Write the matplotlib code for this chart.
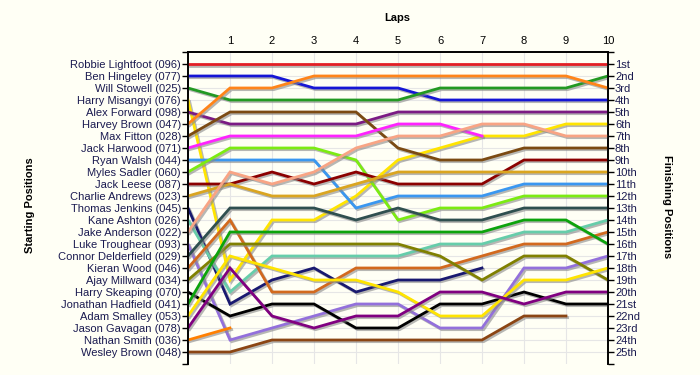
import matplotlib.pyplot as plt
import matplotlib.patheffects as pe

# starting grid, top to bottom
drivers = ["Robbie Lightfoot (096)", "Ben Hingeley (077)", "Will Stowell (025)",
           "Harry Misangyi (076)", "Alex Forward (098)", "Harvey Brown (047)",
           "Max Fitton (028)", "Jack Harwood (071)", "Ryan Walsh (044)",
           "Myles Sadler (060)", "Jack Leese (087)", "Charlie Andrews (023)",
           "Thomas Jenkins (045)", "Kane Ashton (026)", "Jake Anderson (022)",
           "Luke Troughear (093)", "Connor Delderfield (029)", "Kieran Wood (046)",
           "Ajay Millward (034)", "Harry Skeaping (070)", "Jonathan Hadfield (041)",
           "Adam Smalley (053)", "Jason Gavagan (078)", "Nathan Smith (036)",
           "Wesley Brown (048)"]

colors = ["#E31E24", "#1515D5", "#229922", "#FFE400", "#7B1B84", "#FF8419",
          "#7B4A12", "#FF22FF", "#3A97F0", "#7CEB12", "#8B0000", "#DAA520",
          "#191970", "#66CDAA", "#F8A484", "#9370DB", "#2F4F4F", "#D2691E",
          "#808000", "#000000", "#0CA30C", "#FFE400", "#800080", "#FF8000",
          "#8B4513"]

# position at lap 0 (grid) .. last lap completed
positions = [
    [1, 1, 1, 1, 1, 1, 1, 1, 1, 1, 1],
    [2, 2, 2, 3, 3, 3, 4, 4, 4, 4, 4],
    [3, 4, 4, 4, 4, 4, 3, 3, 3, 3, 2],
    [4, 19, 14, 14, 12, 9, 8, 7, 7, 6, 6],
    [5, 6, 6, 6, 6, 5, 5, 5, 5, 5, 5],
    [6, 3, 3, 2, 2, 2, 2, 2, 2, 2, 3],
    [7, 5, 5, 5, 5, 8, 9, 9, 8, 8, 8],
    [8, 7, 7, 7, 7, 6, 6, 7],
    [9, 9, 9, 9, 13, 12, 12, 12, 11, 11, 11],
    [10, 8, 8, 8, 9, 14, 13, 13, 12, 12, 12],
    [11, 11, 10, 11, 10, 11, 11, 11, 9, 9, 9],
    [12, 11, 12, 12, 11, 10, 10, 10, 10, 10, 10],
    [13, 21, 19, 18, 20, 19, 19, 18],
    [14, 20, 17, 17, 17, 17, 16, 16, 15, 15, 14],
    [15, 10, 11, 10, 8, 7, 7, 6, 6, 7, 7],
    [16, 24, 23, 22, 21, 21, 23, 23, 18, 18, 17],
    [17, 13, 13, 13, 14, 13, 14, 14, 13, 13, 13],
    [18, 14, 20, 20, 18, 18, 18, 17, 16, 16, 15],
    [19, 16, 16, 16, 16, 16, 17, 19, 17, 17, 19],
    [20, 22, 21, 21, 23, 23, 21, 21, 20, 21, 21],
    [21, 15, 15, 15, 15, 15, 15, 15, 14, 14, 16],
    [22, 17, 18, 19, 19, 20, 22, 22, 19, 19, 18],
    [23, 18, 22, 23, 22, 22, 20, 20, 21, 20, 20],
    [24, 23],
    [25, 25, 24, 24, 24, 24, 24, 24, 22, 22],
]

laps = list(range(1, 11))
finish_labels = ["1st", "2nd", "3rd"] + [f"{i}th" for i in range(4, 21)] + \
                ["21st", "22nd", "23rd", "24th", "25th"]

bg = "#FFFFF5"
plt.rcParams['font.family'] = ['Liberation Sans', 'DejaVu Sans']

fig = plt.figure(figsize=(7, 3.75), dpi=100, facecolor=bg)
ax = fig.add_axes([188 / 700, 1 - 364 / 375, 420 / 700, 312 / 375], facecolor=bg)

shadow = [pe.SimpleLineShadow(offset=(1.2, -1.2), shadow_color="#888888", alpha=0.6),
          pe.Normal()]
for pos, col in zip(positions, colors):
    ax.plot(range(len(pos)), pos, color=col, lw=2.0, solid_joinstyle="miter",
            path_effects=shadow, zorder=3)

ax.set_xlim(0, 10)
ax.set_ylim(26, 0)

# grid
for x in laps[:-1]:
    ax.axvline(x, color="#E6E6E6", lw=0.8, zorder=1)
for y in range(1, 26):
    ax.axhline(y, color="#E6E6E6", lw=0.8, zorder=1)

ax.xaxis.tick_top()
ax.set_xticks(laps)
ax.set_xticklabels([str(l) for l in laps], fontsize=8)
ax.tick_params(axis="x", length=0, pad=4)

ax.set_yticks(range(0, 27))
ax.set_yticklabels([""] + drivers + [""], fontsize=8, color="#1a1a50")
ax.tick_params(axis="y", length=4, width=1, pad=1)

ax2 = ax.twinx()
ax2.set_ylim(26, 0)
ax2.set_yticks(range(0, 27))
ax2.set_yticklabels([""] + finish_labels + [""], fontsize=8, color="#1a1a50")
ax2.tick_params(axis="y", length=4, width=1, pad=1)

for a in (ax, ax2):
    a.spines["bottom"].set_visible(False)
    for s in ("top", "left", "right"):
        a.spines[s].set_linewidth(1.2)

fig.text(397 / 700, 1 - 18 / 375, "Laps", ha="center", va="center",
         fontsize=8, fontweight="bold")
fig.text(30 / 700, 1 - 205 / 375, "Starting Positions", ha="center", va="center",
         rotation=90, fontsize=8, fontweight="bold")
fig.text(667 / 700, 1 - 207 / 375, "Finishing Positions", ha="center", va="center",
         rotation=270, fontsize=8, fontweight="bold")

fig.savefig("out.png", dpi=100, facecolor=bg)
